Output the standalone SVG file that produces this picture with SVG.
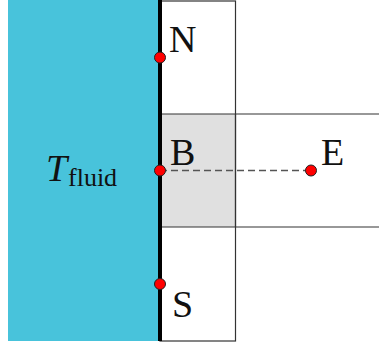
<svg xmlns="http://www.w3.org/2000/svg" width="379" height="347" viewBox="0 0 379 347">
<style>
.lbl{font-family:"Liberation Serif","DejaVu Serif",serif;font-size:38px;fill:#111}
.grid{fill:none;stroke:#333;stroke-width:1.2}
.dot{fill:#f00;stroke:#222;stroke-width:1}
</style>
<rect x="8" y="0" width="152" height="341" fill="#48C3DB"/>
<rect x="160" y="114" width="75.5" height="113" fill="#E0E0E0"/>
<rect class="grid" x="160" y="1" width="75.5" height="340"/>
<line class="grid" x1="160" y1="114" x2="379" y2="114"/>
<line class="grid" x1="160" y1="227" x2="379" y2="227"/>
<line class="grid" x1="235.5" y1="114" x2="235.5" y2="227"/>
<line x1="160" y1="0" x2="160" y2="341" stroke="#000" stroke-width="4"/>
<text x="46" y="181" font-family="Liberation Serif,serif" font-size="38" font-style="italic" fill="#111">T</text>
<text x="68" y="186" font-family="Liberation Serif,serif" font-size="26" fill="#111">fluid</text>
<g id="connectors">
<line x1="160" y1="170.5" x2="311" y2="170.5" stroke="#555" stroke-width="1.4" stroke-dasharray="7,4"/>
</g>
<g id="N"><circle class="dot" cx="160" cy="57.5" r="5.5"/><text class="lbl" x="169" y="52">N</text></g>
<g id="B"><circle class="dot" cx="160" cy="170.5" r="5.5"/><text class="lbl" x="170" y="165">B</text></g>
<g id="S"><circle class="dot" cx="160" cy="284" r="5.5"/><text class="lbl" x="172" y="317">S</text></g>
<g id="E"><circle class="dot" cx="311" cy="170.5" r="5.5"/><text class="lbl" x="321" y="165">E</text></g>
</svg>
